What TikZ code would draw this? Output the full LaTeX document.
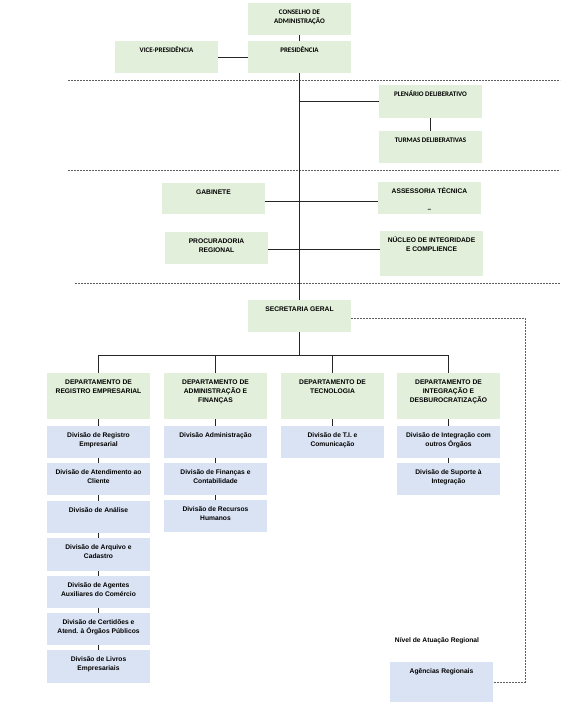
\documentclass[tikz,border=0pt]{standalone}
\usepackage{fontspec}
\setmainfont{Liberation Sans}
\newfontfamily\calibfont{Carlito}
\newcommand\calib{\calibfont\fontsize{7}{9.2}\selectfont}
\usetikzlibrary{calc}
\definecolor{gfill}{RGB}{226,239,218}
\definecolor{bfill}{RGB}{218,227,243}
\definecolor{sepgray}{RGB}{95,95,95}
\newcommand\tb[2]{\parbox[c][#1pt][t]{103pt}{\centering\rule{0pt}{11pt}#2\par}}
\begin{document}
\begin{tikzpicture}[x=1pt,y=-1pt,
  box/.style={inner sep=0pt, outer sep=0pt, font=\fontsize{6.7}{9.2}\selectfont\bfseries},
  gbox/.style={box, fill=gfill},
  bbox/.style={box, fill=bfill},
  conn/.style={draw=black!85, line width=0.8pt},
  sepline/.style={draw=sepgray, line width=0.6pt, dash pattern=on 2pt off 1pt},
  lbl/.style={font=\fontsize{6.7}{9.2}\selectfont\bfseries, inner sep=0pt}]
\useasboundingbox (0,0) rectangle (572,712);
% top level
\node[gbox] (cons) at (299.5,19) {\tb{32}{\calib CONSELHO DE\\ADMINISTRAÇÃO}};
\node[gbox] (pres) at (299.5,57) {\tb{32}{\calib PRESIDÊNCIA}};
\node[gbox] (vice) at (166.5,57) {\tb{32}{\calib VICE-PRESIDÊNCIA}};
\node[gbox] (plen) at (430.5,101.5) {\tb{33}{\calib PLENÁRIO DELIBERATIVO}};
\node[gbox] (turm) at (430.5,147) {\tb{32}{\calib TURMAS DELIBERATIVAS}};
\node[gbox] (gab) at (213.5,198.5) {\tb{31}{GABINETE}};
\node[gbox] (asse) at (429.5,198) {\tb{32}{ASSESSORIA TÉCNICA\\[9.5pt]–}};
\node[gbox] (proc) at (216.5,248) {\tb{32}{PROCURADORIA\\REGIONAL}};
\node[gbox] (nucl) at (431.5,253.5) {\tb{45}{NÚCLEO DE INTEGRIDADE\\E COMPLIENCE}};
\node[gbox] (sec) at (299.5,316) {\tb{32}{SECRETARIA GERAL}};
% departments
\node[gbox] (d1) at (98.5,396) {\tb{46}{DEPARTAMENTO DE\\REGISTRO EMPRESARIAL}};
\node[gbox] (d2) at (215.5,396) {\tb{46}{DEPARTAMENTO DE\\ADMINISTRAÇÃO E\\FINANÇAS}};
\node[gbox] (d3) at (332.5,396) {\tb{46}{DEPARTAMENTO DE\\TECNOLOGIA}};
\node[gbox] (d4) at (448.5,396) {\tb{46}{DEPARTAMENTO DE\\INTEGRAÇÃO E\\DESBUROCRATIZAÇÃO}};
% divisions column 1
\node[bbox] (a1) at (98.5,442) {\tb{32}{Divisão de Registro\\Empresarial}};
\node[bbox] (a2) at (98.5,479) {\tb{32}{Divisão de Atendimento ao\\Cliente}};
\node[bbox] (a3) at (98.5,517) {\tb{32}{Divisão de Análise}};
\node[bbox] (a4) at (98.5,554.5) {\tb{33}{Divisão de Arquivo e\\Cadastro}};
\node[bbox] (a5) at (98.5,592) {\tb{32}{Divisão de Agentes\\Auxiliares do Comércio}};
\node[bbox] (a6) at (98.5,629) {\tb{32}{Divisão de Certidões e\\Atend. à Órgãos Públicos}};
\node[bbox] (a7) at (98.5,666.5) {\tb{33}{Divisão de Livros\\Empresariais}};
% column 2
\node[bbox] (b1) at (215.5,442) {\tb{32}{Divisão Administração}};
\node[bbox] (b2) at (215.5,479) {\tb{32}{Divisão de Finanças e\\Contabilidade}};
\node[bbox] (b3) at (215.5,516) {\tb{32}{Divisão de Recursos\\Humanos}};
% column 3
\node[bbox] (c1) at (332.5,442) {\tb{32}{Divisão de T.I. e\\Comunicação}};
% column 4
\node[bbox] (e1) at (448.5,442) {\tb{32}{Divisão de Integração com\\outros Órgãos}};
\node[bbox] (e2) at (448.5,479) {\tb{32}{Divisão de Suporte à\\Integração}};
% regional
\node[lbl] (nivel) at (437,641) {Nível de Atuação Regional};
\node[bbox] (ag) at (441.5,682) {\tb{40}{Agências Regionais}};
% coordinates
\coordinate (bus) at (299.5,355);
\coordinate (rline) at (525,0);
\coordinate (s1l) at (68,80);  \coordinate (s1r) at (560,80);
\coordinate (s2l) at (68,170); \coordinate (s2r) at (560,170);
\coordinate (s3l) at (75,283); \coordinate (s3r) at (560,283);
% separators
\draw[sepline] (s1l) -- (s1r);
\draw[sepline] (s2l) -- (s2r);
\draw[sepline] (s3l) -- (s3r);
% connectors
\draw[conn] (cons.south) -- (pres.north);
\draw[conn] (vice.east) -- (pres.west);
\draw[conn] (pres.south) -- (sec.north);
\draw[conn] (pres.south |- plen.west) -- (plen.west);
\draw[conn] (plen.south) -- (turm.north);
\draw[conn] ($(gab.east)+(0,2.5)$) -- ($(asse.west)+(0,3)$);
\draw[conn] ($(proc.east)+(0,1)$) -- ($(proc.east -| nucl.west)+(0,1)$);
\draw[conn] (sec.south) -- (bus);
\draw[conn] (d1.north) -- (d1.north |- bus) -- (d4.north |- bus) -- (d4.north);
\draw[conn] (d2.north) -- (d2.north |- bus);
\draw[conn] (d3.north) -- (d3.north |- bus);
\draw[conn] (d1.south) -- (a1.north);
\draw[conn] (a1.south) -- (a2.north);
\draw[conn] (a2.south) -- (a3.north);
\draw[conn] (a3.south) -- (a4.north);
\draw[conn] (a4.south) -- (a5.north);
\draw[conn] (a5.south) -- (a6.north);
\draw[conn] (a6.south) -- (a7.north);
\draw[conn] (d2.south) -- (b1.north);
\draw[conn] (b1.south) -- (b2.north);
\draw[conn] (b2.south) -- (b3.north);
\draw[conn] (d3.south) -- (c1.north);
\draw[conn] (d4.south) -- (e1.north);
\draw[conn] (e1.south) -- (e2.north);
\draw[sepline] ($(sec.east)+(0,2)$) -- ($(sec.east -| rline)+(0,2)$) |- (ag.east);
\end{tikzpicture}
\end{document}
